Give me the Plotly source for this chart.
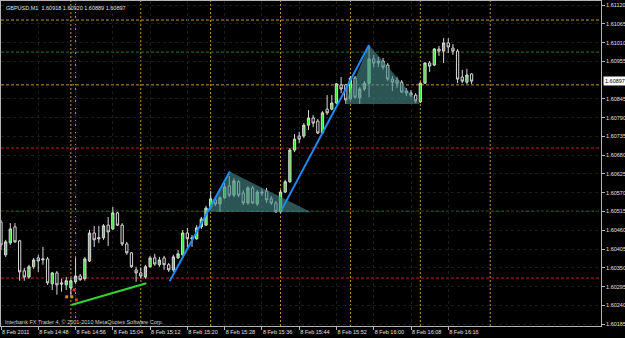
import plotly.graph_objects as go

# ---------------- data (GBPUSD, M1, 8 Feb 2011, 14:40 .. 16:21) ----------------
bars = list(range(102))
opens = [1.60484, 1.60388, 1.60423, 1.60470, 1.60429, 1.60341, 1.60323, 1.60353, 1.60379, 1.60373,
         1.60376, 1.60303, 1.60335, 1.60306, 1.60300, 1.60291, 1.60309, 1.60326, 1.60318, 1.60370,
         1.60452, 1.60435, 1.60438, 1.60475, 1.60464, 1.60511, 1.60475, 1.60420, 1.60394, 1.60344,
         1.60335, 1.60323, 1.60353, 1.60379, 1.60359, 1.60379, 1.60359, 1.60344, 1.60379, 1.60388,
         1.60452, 1.60438, 1.60435, 1.60470, 1.60475, 1.60528, 1.60549, 1.60537, 1.60555, 1.60590,
         1.60563, 1.60602, 1.60569, 1.60540, 1.60584, 1.60537, 1.60572, 1.60575, 1.60552, 1.60540,
         1.60514, 1.60572, 1.60602, 1.60695, 1.60736, 1.60736, 1.60768, 1.60789, 1.60780, 1.60745,
         1.60815, 1.60815, 1.60833, 1.60886, 1.60886, 1.60845, 1.60906, 1.60848, 1.60874, 1.60891,
         1.60962, 1.60956, 1.60956, 1.60944, 1.60903, 1.60900, 1.60894, 1.60868, 1.60862, 1.60856,
         1.60836, 1.60891, 1.60950, 1.60944, 1.60991, 1.60985, 1.61009, 1.60994, 1.60985, 1.60909,
         1.60894, 1.60918]
highs = [1.60490, 1.60432, 1.60481, 1.60481, 1.60432, 1.60350, 1.60359, 1.60379, 1.60388, 1.60411,
         1.60382, 1.60338, 1.60341, 1.60318, 1.60323, 1.60320, 1.60379, 1.60332, 1.60382, 1.60461,
         1.60473, 1.60473, 1.60478, 1.60499, 1.60528, 1.60514, 1.60481, 1.60426, 1.60396, 1.60353,
         1.60350, 1.60359, 1.60385, 1.60391, 1.60382, 1.60385, 1.60364, 1.60388, 1.60402, 1.60461,
         1.60467, 1.60446, 1.60475, 1.60499, 1.60531, 1.60575, 1.60557, 1.60560, 1.60599, 1.60619,
         1.60613, 1.60608, 1.60578, 1.60590, 1.60590, 1.60578, 1.60581, 1.60584, 1.60560, 1.60546,
         1.60578, 1.60608, 1.60701, 1.60742, 1.60748, 1.60774, 1.60812, 1.60798, 1.60786, 1.60809,
         1.60856, 1.60856, 1.60891, 1.60909, 1.60889, 1.60912, 1.60912, 1.60880, 1.60897, 1.61000,
         1.60974, 1.60968, 1.60965, 1.60950, 1.60912, 1.60909, 1.60900, 1.60877, 1.60871, 1.60862,
         1.60894, 1.60953, 1.60956, 1.60994, 1.61000, 1.61023, 1.61023, 1.61006, 1.60991, 1.60930,
         1.60933, 1.60920]
lows = [1.60402, 1.60382, 1.60417, 1.60423, 1.60312, 1.60312, 1.60318, 1.60347, 1.60338, 1.60359,
        1.60300, 1.60285, 1.60271, 1.60280, 1.60285, 1.60265, 1.60303, 1.60312, 1.60312, 1.60367,
        1.60411, 1.60423, 1.60432, 1.60414, 1.60461, 1.60473, 1.60414, 1.60388, 1.60350, 1.60309,
        1.60318, 1.60318, 1.60350, 1.60356, 1.60353, 1.60344, 1.60338, 1.60338, 1.60376, 1.60385,
        1.60411, 1.60411, 1.60432, 1.60464, 1.60473, 1.60522, 1.60531, 1.60514, 1.60552, 1.60557,
        1.60557, 1.60557, 1.60534, 1.60534, 1.60537, 1.60531, 1.60560, 1.60540, 1.60534, 1.60511,
        1.60511, 1.60569, 1.60599, 1.60689, 1.60715, 1.60730, 1.60754, 1.60762, 1.60742, 1.60742,
        1.60798, 1.60812, 1.60830, 1.60862, 1.60830, 1.60842, 1.60845, 1.60830, 1.60868, 1.60850,
        1.60938, 1.60938, 1.60930, 1.60897, 1.60868, 1.60877, 1.60862, 1.60853, 1.60850, 1.60833,
        1.60833, 1.60889, 1.60924, 1.60941, 1.60971, 1.60950, 1.60979, 1.60974, 1.60891, 1.60891,
        1.60889, 1.60889]
closes = [1.60417, 1.60426, 1.60464, 1.60426, 1.60338, 1.60323, 1.60353, 1.60373, 1.60370, 1.60376,
          1.60306, 1.60335, 1.60300, 1.60303, 1.60312, 1.60312, 1.60326, 1.60315, 1.60376, 1.60452,
          1.60432, 1.60438, 1.60473, 1.60455, 1.60511, 1.60475, 1.60420, 1.60394, 1.60353, 1.60335,
          1.60326, 1.60353, 1.60379, 1.60361, 1.60373, 1.60359, 1.60344, 1.60382, 1.60391, 1.60452,
          1.60435, 1.60435, 1.60467, 1.60493, 1.60525, 1.60552, 1.60537, 1.60555, 1.60587, 1.60563,
          1.60605, 1.60563, 1.60540, 1.60584, 1.60540, 1.60572, 1.60569, 1.60549, 1.60540, 1.60514,
          1.60572, 1.60602, 1.60695, 1.60727, 1.60727, 1.60768, 1.60789, 1.60774, 1.60745, 1.60804,
          1.60804, 1.60833, 1.60889, 1.60874, 1.60842, 1.60906, 1.60850, 1.60874, 1.60891, 1.60962,
          1.60950, 1.60950, 1.60938, 1.60903, 1.60894, 1.60891, 1.60865, 1.60862, 1.60856, 1.60839,
          1.60891, 1.60950, 1.60941, 1.60991, 1.60985, 1.61009, 1.60997, 1.60985, 1.60903, 1.60897,
          1.60915, 1.60897]

time_ticks = [0, 8, 16, 24, 32, 40, 48, 56, 64, 72, 80, 88, 96]
time_labels = ["8 Feb 2011", "8 Feb 14:48", "8 Feb 14:56", "8 Feb 15:04", "8 Feb 15:12",
               "8 Feb 15:20", "8 Feb 15:28", "8 Feb 15:36", "8 Feb 15:44", "8 Feb 15:52",
               "8 Feb 16:00", "8 Feb 16:08", "8 Feb 16:16"]
price_ticks = [1.60185, 1.60240, 1.60295, 1.60350, 1.60405, 1.60460, 1.60515, 1.60570, 1.60625,
               1.60680, 1.60735, 1.60790, 1.60845, 1.60955, 1.61010, 1.61065, 1.61120]

current_price = 1.60897
header = "GBPUSD,M1  1.60918 1.60920 1.60889 1.60897"
footer = "Interbank FX Trader 4, \u00a9 2001-2010 MetaQuotes Software Corp."

# chart objects
hline_prices = [1.61076, 1.60982, 1.60886, 1.60701, 1.60516, 1.60320]
hline_colors = ["#c8922a", "#1f7a24", "#c8922a", "#c42026", "#1f7a24", "#c42026"]
vline_bars = [15, 16, 30, 45, 60, 75, 90, 105]

green_bars = [15.1, 31.2]
green_prices = [1.60241, 1.60305]
blue1_bars = [36.2, 49.1]
blue1_prices = [1.60311, 1.60632]
blue2_bars = [60.2, 79.0]
blue2_prices = [1.60519, 1.61003]
tri1_bars = [49.1, 44.4, 66.6]
tri1_prices = [1.60632, 1.60514, 1.60513]
tri2_bars = [79.0, 73.8, 89.9]
tri2_prices = [1.61003, 1.60830, 1.60830]

arrow_bars = [14.1, 15.2, 15.7, 16.2]
arrow_prices = [1.60265, 1.60265, 1.60285, 1.60256]
arrow_colors = ["#d08a20", "#d08a20", "#e03030", "#e03030"]

# ---------------- figure ----------------
FONT = "Liberation Sans"
fig = go.Figure()

for tb, tp in ((tri1_bars, tri1_prices), (tri2_bars, tri2_prices)):
    fig.add_trace(go.Scatter(x=tb, y=tp, mode="lines", fill="toself",
                             fillcolor="rgba(70,135,135,0.62)", line=dict(width=0),
                             hoverinfo="skip", showlegend=False))

fig.add_trace(go.Candlestick(
    x=bars, open=opens, high=highs, low=lows, close=closes,
    increasing=dict(line=dict(color="#d8d8d8", width=1), fillcolor="#3de23d"),
    decreasing=dict(line=dict(color="#d8d8d8", width=1), fillcolor="#000000"),
    whiskerwidth=0, showlegend=False, hoverinfo="skip"))

fig.add_trace(go.Scatter(x=green_bars, y=green_prices, mode="lines",
                         line=dict(color="#35d235", width=2), showlegend=False, hoverinfo="skip"))
for bb, bp in ((blue1_bars, blue1_prices), (blue2_bars, blue2_prices)):
    fig.add_trace(go.Scatter(x=bb, y=bp, mode="lines",
                             line=dict(color="#1e8cff", width=2), showlegend=False, hoverinfo="skip"))
fig.add_trace(go.Scatter(x=arrow_bars, y=arrow_prices, mode="markers",
                         marker=dict(color=arrow_colors, size=3, symbol="square"),
                         showlegend=False, hoverinfo="skip"))

for p, c in zip(hline_prices, hline_colors):
    fig.add_shape(type="line", xref="paper", x0=0, x1=1, yref="y", y0=p, y1=p,
                  line=dict(color=c, width=1, dash="3px,2px"), layer="below")
for b in vline_bars:
    fig.add_shape(type="line", xref="x", x0=b, x1=b, yref="paper", y0=0, y1=1,
                  line=dict(color="#c8922a", width=1, dash="2px,2px"), layer="below")

fig.add_annotation(xref="paper", yref="paper", x=0, y=1, xanchor="left", yanchor="top",
                   xshift=3, yshift=-2, text=header, showarrow=False,
                   font=dict(family=FONT, size=5.5, color="#e0e0e0"))
fig.add_annotation(xref="paper", yref="paper", x=0, y=0, xanchor="left", yanchor="middle",
                   xshift=2, yshift=4, text=footer, showarrow=False,
                   font=dict(family=FONT, size=5.5, color="#d0d0d0"))
fig.add_annotation(xref="paper", yref="y", x=1, y=current_price, xanchor="left", yanchor="middle",
                   xshift=2, text=f"{current_price:.5f}", showarrow=False, bgcolor="#ffffff",
                   borderpad=1, font=dict(family=FONT, size=5.5, color="#000000"))

axis_common = dict(showline=True, linecolor="#b4b4b4", linewidth=1, mirror=True,
                   ticks="outside", ticklen=3, tickcolor="#b4b4b4", zeroline=False,
                   showgrid=True, gridcolor="#1c1c1c", griddash="dot", gridwidth=1,
                   automargin=False,
                   tickfont=dict(family=FONT, size=5.5, color="#e0e0e0"))

fig.update_layout(
    width=625, height=338,
    margin=dict(l=1, r=24, t=1, b=12),
    paper_bgcolor="#000000", plot_bgcolor="#000000",
    showlegend=False,
    xaxis=dict(range=[0, 128.78], tickvals=time_ticks, ticktext=time_labels, tickangle=0,
               ticklabelposition="outside right", rangeslider=dict(visible=False),
               **axis_common),
    yaxis=dict(range=[1.601795, 1.611318], side="right", tickvals=price_ticks,
               ticktext=[f"{v:.5f}" for v in price_ticks], **axis_common),
)

fig.write_html("out.html")
